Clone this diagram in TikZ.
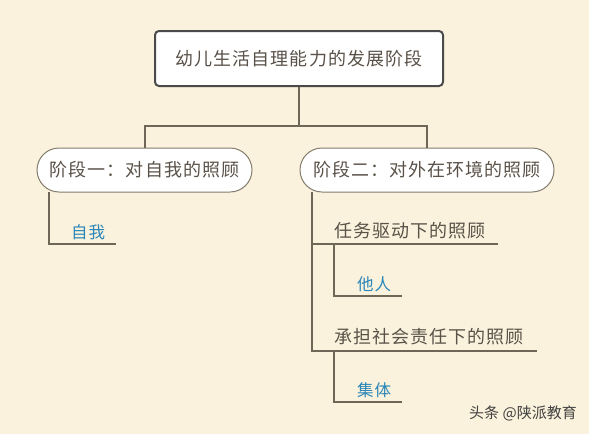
\documentclass[tikz,border=0pt]{standalone}
\usepackage{fontspec}
\newfontfamily\cjk{Noto Sans CJK SC}
\newfontfamily\cjksp[LetterSpace=6]{Noto Sans CJK SC}
\definecolor{bgc}{HTML}{FAF2DC}
\definecolor{linec}{HTML}{6E6656}
\definecolor{txtc}{HTML}{5A5249}
\definecolor{bluec}{HTML}{2A86B8}
\definecolor{rootb}{HTML}{4A4A4A}
\begin{document}
\begin{tikzpicture}[x=1pt,y=-1pt,
  rootbox/.style={draw=rootb,line width=2pt,fill=white,rounded corners=4pt,minimum width=288pt,minimum height=55pt,inner sep=0pt,font=\cjksp\fontsize{18}{20}\selectfont,text=txtc},
  pill/.style={draw=linec!85,line width=1pt,fill=white,rounded corners=22pt,minimum height=44pt,inner sep=0pt,font=\cjksp\fontsize{18}{20}\selectfont,text=txtc},
  conn/.style={draw=linec,line width=2pt},
  subtxt/.style={anchor=west,inner sep=0pt,font=\cjksp\fontsize{18}{20}\selectfont,text=txtc},
  leaftxt/.style={anchor=west,inner sep=0pt,font=\cjksp\fontsize{16.5}{18}\selectfont,text=bluec},
  wmark/.style={anchor=west,inner sep=0pt,font=\cjk\fontsize{15}{17}\selectfont,text=black!75}]
\fill[bgc] (0,0) rectangle (589,434);
\useasboundingbox (0,0) rectangle (589,434);
\node[rootbox] (root) at (299,58.5) {幼儿生活自理能力的发展阶段};
\node[pill,minimum width=215pt] (p1) at (144.5,170) {阶段一：对自我的照顾};
\node[pill,minimum width=254pt] (p2) at (427,170) {阶段二：对外在环境的照顾};
\coordinate (mid) at (299,126);
\draw[conn] (root.south) -- (mid) -| (p1.north);
\draw[conn] (mid) -| (p2.north);
% left subtree
\coordinate (l1top) at (49,192);
\coordinate (l1end) at (116,244);
\draw[conn] (l1top) |- (l1end);
\node[leaftxt] (ziwo) at (71,232) {自我};
% right subtree
\coordinate (r1top) at (312,192);
\coordinate (r1bot) at (312,351);
\coordinate (u1start) at (312,244);
\coordinate (u1end) at (498,244);
\coordinate (u2end) at (537,351);
\draw[conn] (r1top) -- (r1bot) -- (u2end);
\draw[conn] (u1start) -- (u1end);
\node[subtxt] (s1) at (334,231) {任务驱动下的照顾};
\node[subtxt] (s2) at (334,337) {承担社会责任下的照顾};
\coordinate (t1top) at (334,245);
\coordinate (t1end) at (402,296);
\draw[conn] (t1top) |- (t1end);
\node[leaftxt] (taren) at (357,284) {他人};
\coordinate (t2top) at (334,352);
\coordinate (t2end) at (402,402);
\draw[conn] (t2top) |- (t2end);
\node[leaftxt] (jiti) at (357,390) {集体};
\node[wmark] (wm) at (469,413) {头条 @陕派教育};
\end{tikzpicture}
\end{document}
